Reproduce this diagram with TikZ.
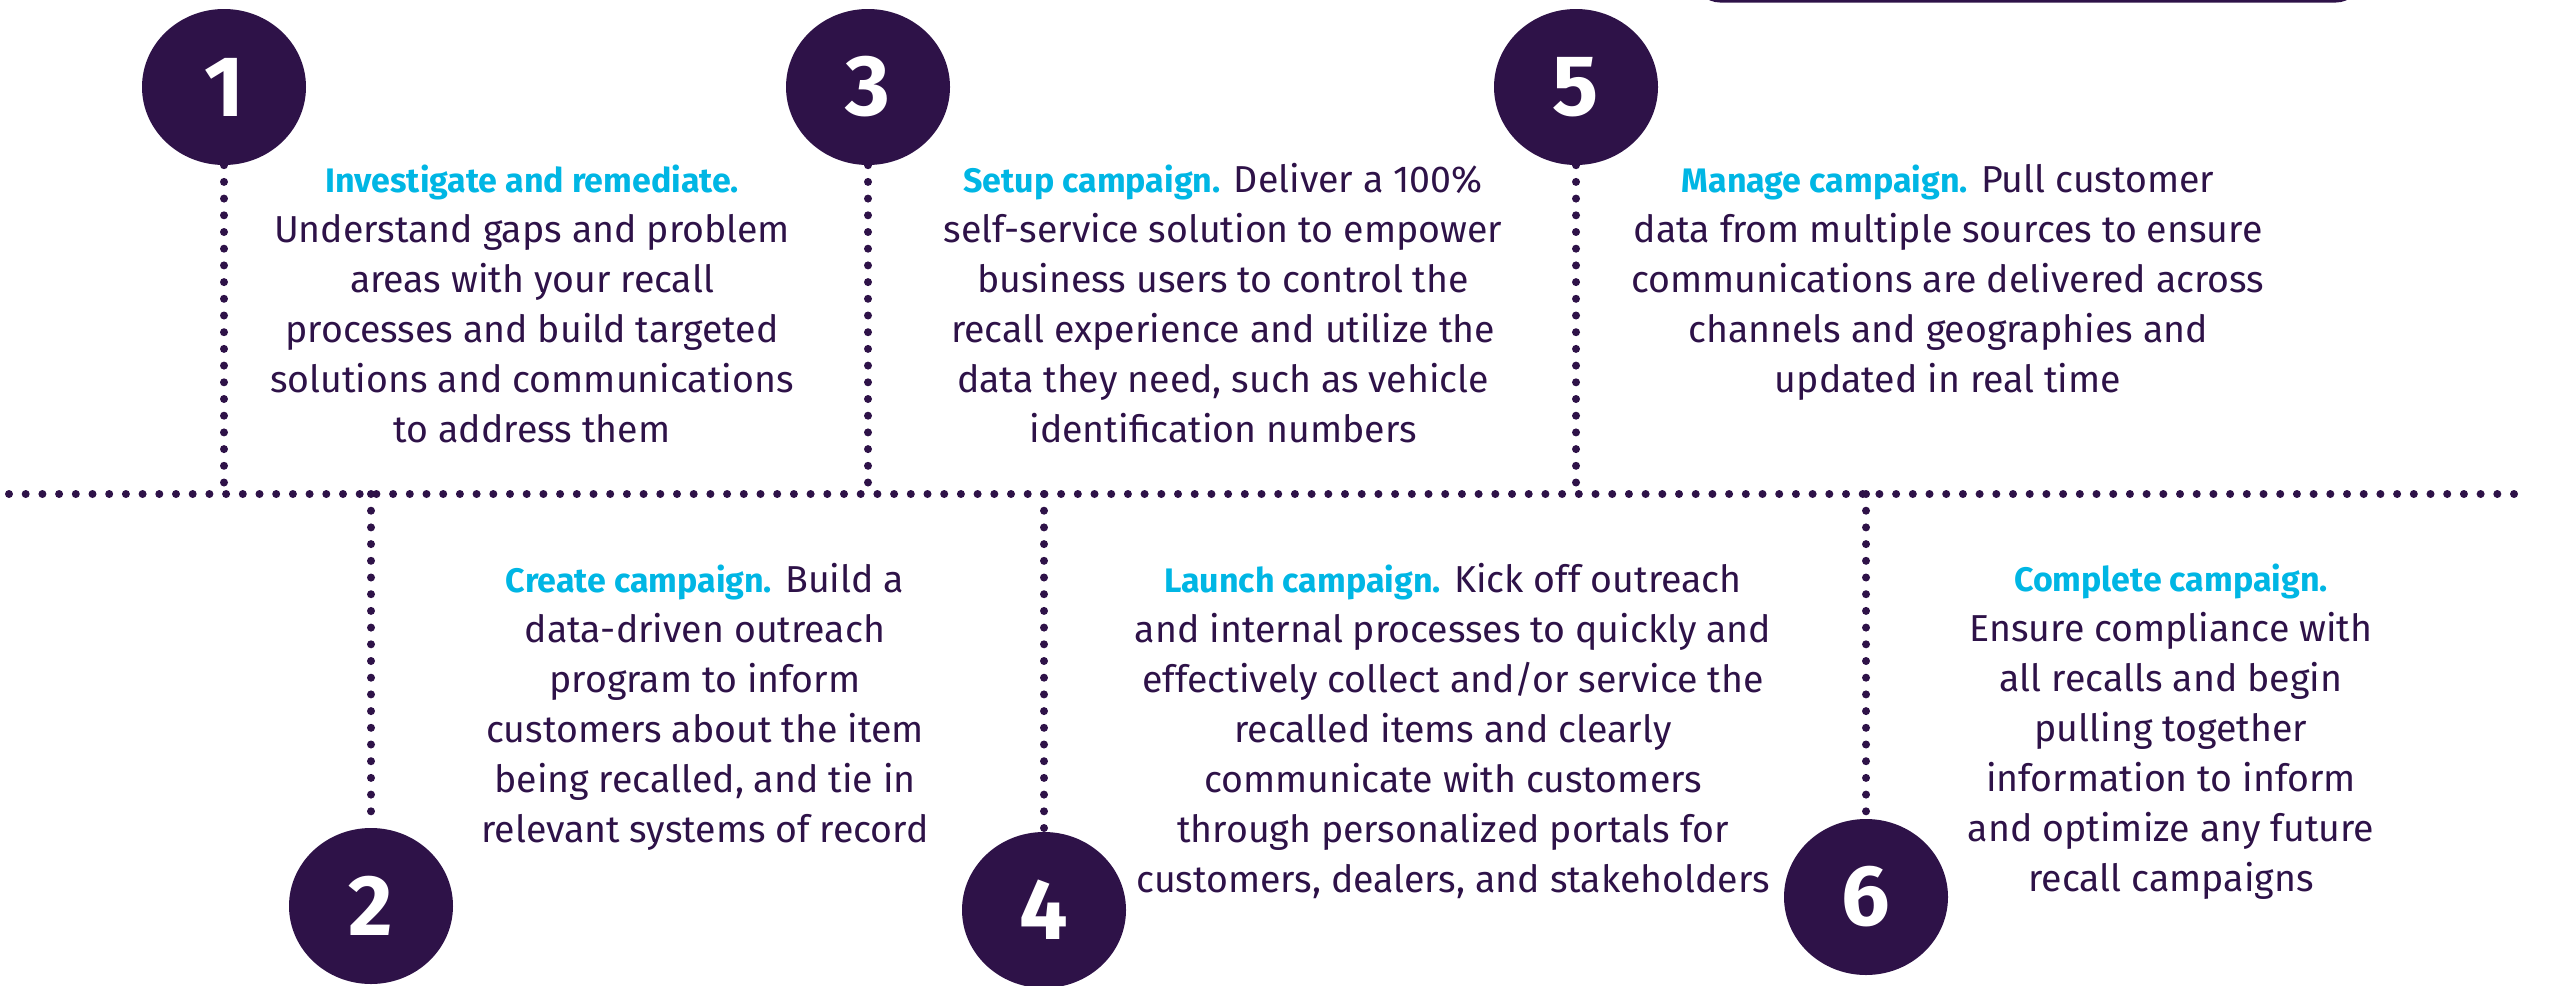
\documentclass[tikz,border=0pt]{standalone}
\usepackage{fontspec}
\setmainfont{Fira Sans}
\usetikzlibrary{shapes.geometric,calc}
\definecolor{plum}{RGB}{46,18,72}
\definecolor{sky}{RGB}{0,182,228}
\tikzset{
  num/.style={ellipse,fill=plum,minimum width=164pt,minimum height=156pt,inner sep=0pt,
    text=white,font=\fontsize{86}{86}\selectfont\bfseries},
  dots/.style={plum,line width=8pt,line cap=round,dash pattern=on 0pt off 16.7pt},
  desc/.style={align=center,inner sep=0pt,anchor=north,text=plum,
    font=\fontsize{37.5}{50}\selectfont},
}
\newcommand{\hd}[1]{\textcolor{sky}{\fontsize{34}{50}\selectfont\bfseries #1}}
\begin{document}
\begin{tikzpicture}[x=1pt,y=-1pt]
  \useasboundingbox (0,0) rectangle (2550,985);
  \draw[plum,line width=3pt,rounded corners=24pt] (1696,-60) rectangle (2360,1);
  \node[num] (c1) at (224,87) {1};
  \node[num] (c3) at (868,87) {3};
  \node[num] (c5) at (1576,87) {5};
  \node[num] (c2) at (371,906) {2};
  \node[num] (c4) at (1044,910) {4};
  \node[num] (c6) at (1866,897) {6};
  \coordinate (hl) at (9,494);
  \coordinate (hr) at (2517,494);
  \draw[dots] (hl) -- (hr);
  \draw[dots] (c1.south) -- (c1 |- hl);
  \draw[dots] (c3.south) -- (c3 |- hl);
  \draw[dots] (c5.south) -- (c5 |- hl);
  \draw[dots] (c2 |- hl) -- (c2.north);
  \draw[dots] (c4 |- hl) -- (c4.north);
  \draw[dots] (c6 |- hl) -- (c6.north);
  \node[desc] (t1) at (532,165) {\hd{Investigate and remediate.}\\
    Understand gaps and problem\\ areas with your recall\\
    processes and build targeted\\ solutions and communications\\ to address them};
  \node[desc] (t3) at (1223,163) {\hd{Setup campaign.} Deliver a 100\%\\
    self-service solution to empower\\ business users to control the\\
    recall experience and utilize the\\ data they need, such as vehicle\\
    identification numbers};
  \node[desc] (t5) at (1948,164) {\hd{Manage campaign.} Pull customer\\
    data from multiple sources to ensure\\ communications are delivered across\\
    channels and geographies and\\ updated in real time};
  \node[desc] (t2) at (705,563) {\hd{Create campaign.} Build a\\
    data-driven outreach\\ program to inform\\ customers about the item\\
    being recalled, and tie in\\ relevant systems of record};
  \node[desc] (t4) at (1453,563) {\hd{Launch campaign.} Kick off outreach\\
    and internal processes to quickly and\\ effectively collect and/or service the\\
    recalled items and clearly\\ communicate with customers\\
    through personalized portals for\\ customers, dealers, and stakeholders};
  \node[desc] (t6) at (2171,564) {\hd{Complete campaign.}\\
    Ensure compliance with\\ all recalls and begin\\ pulling together\\
    information to inform\\ and optimize any future\\ recall campaigns};
\end{tikzpicture}
\end{document}
